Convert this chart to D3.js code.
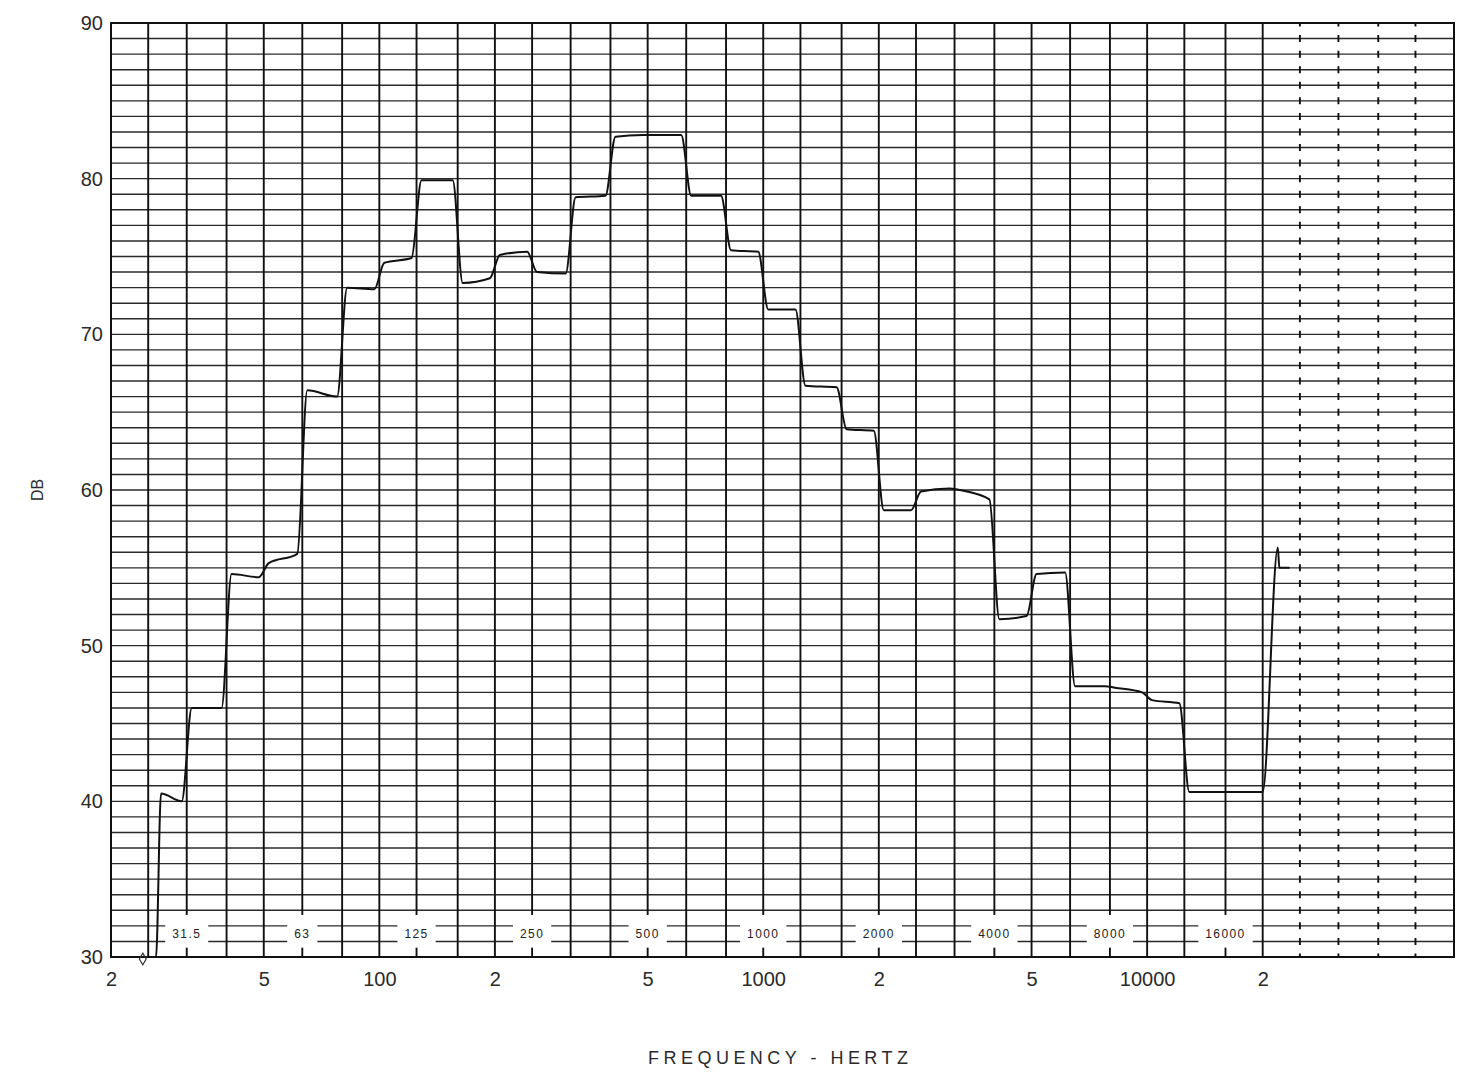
<!DOCTYPE html>
<html>
<head>
<meta charset="utf-8">
<script src="https://cdn.jsdelivr.net/npm/d3@7"></script>
<style>
  html, body { margin: 0; padding: 0; background: #fff; }
  svg { display: block; font-family: "Liberation Sans", Arial, sans-serif; }
</style>
</head>
<body>
<svg id="chart" width="1458" height="1078"></svg>
<script>
// 1/3 octave band centres and the level the pen held in each band (start -> end of band)
const bandHz = [25, 31.5, 40, 50, 63, 80, 100, 125, 160, 200, 250, 315, 400, 500, 630,
  800, 1000, 1250, 1600, 2000, 2500, 3150, 4000, 5000, 6300, 8000, 10000, 12500, 16000];
const levelStart = [40.5, 46.0, 54.6, 55.3, 66.4, 73.0, 74.6, 79.9, 73.3, 75.1, 74.0, 78.8, 82.7, 82.8, 78.9,
  75.4, 71.6, 66.7, 63.9, 58.7, 59.9, 60.0, 51.7, 54.6, 47.4, 47.3, 46.5, 40.6, 40.6];
const levelEnd = [40.0, 46.0, 54.4, 55.9, 66.0, 72.9, 74.9, 79.9, 73.6, 75.3, 73.9, 78.9, 82.8, 82.8, 78.9,
  75.3, 71.6, 66.6, 63.8, 58.7, 60.1, 59.4, 51.9, 54.7, 47.4, 47.0, 46.3, 40.6, 40.6];

// start of the run: pen sits on the floor, then lifts off part way into the 25 Hz band
const traceStartHz = 24.2;
const liftOffHz = 26.2;
const floorDb = 30;
// end of the run in the 20 kHz band: overshoot, settle, pen lifted
const tailHz = [20000, 21900, 22100, 23500];
const tailDb = [40.6, 56.3, 55.0, 55.0];

// paper grid: one line per 1/10 decade, dashed past 20 kHz
const gridHz = [20, 25, 31.5, 40, 50, 63, 80, 100, 125, 160, 200, 250, 315, 400, 500, 630,
  800, 1000, 1250, 1600, 2000, 2500, 3150, 4000, 5000, 6300, 8000, 10000, 12500, 16000, 20000];
const dashedHz = [25000, 31500, 40000, 50000];

const octaveHz = [31.5, 63, 125, 250, 500, 1000, 2000, 4000, 8000, 16000];
const octaveLabels = ["31.5", "63", "125", "250", "500", "1000", "2000", "4000", "8000", "16000"];

const xTickHz = [20, 50, 100, 200, 500, 1000, 2000, 5000, 10000, 20000];
const xTickLabels = ["2", "5", "100", "2", "5", "1000", "2", "5", "10000", "2"];
const yTicks = [30, 40, 50, 60, 70, 80, 90];

const plotLeft = 111, plotRight = 1454, plotTop = 23, plotBottom = 957;

const svg = d3.select("#chart");

const x = d3.scaleLog().domain([20, 63000]).range([plotLeft, plotRight]);
const y = d3.scaleLinear().domain([30, 90]).range([plotBottom, plotTop]);

// horizontal grid, every dB
svg.append("g").attr("class", "hgrid")
  .selectAll("line")
  .data(d3.range(31, 90))
  .enter().append("line")
  .attr("x1", plotLeft).attr("x2", plotRight)
  .attr("y1", d => y(d)).attr("y2", d => y(d))
  .attr("stroke", "#2a2a2a")
  .attr("stroke-width", 1.4);

// vertical grid
svg.append("g").attr("class", "vgrid")
  .selectAll("line")
  .data(gridHz.slice(1))
  .enter().append("line")
  .attr("x1", d => x(d)).attr("x2", d => x(d))
  .attr("y1", plotTop).attr("y2", plotBottom)
  .attr("stroke", "#111")
  .attr("stroke-width", 1.9);

const dbStep = y(30) - y(31);
svg.append("g").attr("class", "vgrid-dashed")
  .selectAll("line")
  .data(dashedHz)
  .enter().append("line")
  .attr("x1", d => x(d)).attr("x2", d => x(d))
  .attr("y1", plotTop).attr("y2", plotBottom)
  .attr("stroke", "#111")
  .attr("stroke-width", 1.9)
  .attr("stroke-dasharray", `7 ${dbStep - 7}`)
  .attr("stroke-dashoffset", 3.5);

// frame
svg.append("rect")
  .attr("x", plotLeft).attr("y", plotTop)
  .attr("width", plotRight - plotLeft).attr("height", plotBottom - plotTop)
  .attr("fill", "none")
  .attr("stroke", "#111")
  .attr("stroke-width", 2);

// octave band labels sitting in white boxes near the bottom
const bandLab = svg.append("g").attr("class", "band-labels");
octaveHz.forEach((f, i) => {
  const g = bandLab.append("g");
  const rect = g.append("rect").attr("fill", "#fff");
  const t = g.append("text")
    .attr("x", x(f))
    .attr("y", (y(31) + y(32)) / 2)
    .attr("dy", "0.35em")
    .attr("text-anchor", "middle")
    .attr("font-size", 12)
    .attr("letter-spacing", 1.4)
    .attr("fill", "#222")
    .text(octaveLabels[i]);
  const w = t.node().getComputedTextLength() + 14;
  rect.attr("x", x(f) - w / 2).attr("width", w)
    .attr("y", y(32.7)).attr("height", y(30.6) - y(32.7));
});

// the recorder trace
const r = Math.pow(10, 5 / 384);
const pts = [[traceStartHz, floorDb], [liftOffHz, floorDb]];
bandHz.forEach((f, i) => {
  const next = i < bandHz.length - 1 ? bandHz[i + 1] : tailHz[0];
  pts.push([(i === 0 ? liftOffHz : f) * r, levelStart[i]]);
  pts.push([next / r, levelEnd[i]]);
});
tailHz.forEach((f, i) => pts.push([f, tailDb[i]]));

const line = d3.line()
  .x(d => x(d[0]))
  .y(d => y(d[1]))
  .curve(d3.curveMonotoneX);

svg.append("path")
  .datum(pts)
  .attr("d", line)
  .attr("fill", "none")
  .attr("stroke", "#111")
  .attr("stroke-width", 2)
  .attr("stroke-linejoin", "round");

// pen start mark
svg.append("path")
  .attr("d", d3.symbol().type(d3.symbolDiamond).size(40))
  .attr("transform", `translate(${x(traceStartHz)},${y(floorDb) + 2})`)
  .attr("fill", "none")
  .attr("stroke", "#333")
  .attr("stroke-width", 1.2);

// axes (labels only)
const xAxis = d3.axisBottom(x)
  .tickValues(xTickHz)
  .tickFormat((d, i) => xTickLabels[i])
  .tickSize(0)
  .tickPadding(15);

svg.append("g")
  .attr("transform", `translate(0,${plotBottom})`)
  .call(xAxis)
  .call(g => g.select(".domain").remove())
  .selectAll("text")
  .attr("font-size", 20)
  .attr("font-family", "Liberation Sans, Arial, sans-serif")
  .attr("fill", "#2a2a2a");

const yAxis = d3.axisLeft(y)
  .tickValues(yTicks)
  .tickSize(0)
  .tickPadding(plotLeft - 103);

svg.append("g")
  .attr("transform", `translate(${plotLeft},0)`)
  .call(yAxis)
  .call(g => g.select(".domain").remove())
  .selectAll("text")
  .attr("font-size", 20)
  .attr("font-family", "Liberation Sans, Arial, sans-serif")
  .attr("fill", "#2a2a2a");

// titles
svg.append("text")
  .attr("transform", "translate(43,490) rotate(-90)")
  .attr("text-anchor", "middle")
  .attr("font-size", 16)
  .attr("fill", "#2a2a2a")
  .text("DB");

svg.append("text")
  .attr("x", 648)
  .attr("y", 1064)
  .attr("font-size", 18)
  .attr("textLength", 260)
  .attr("lengthAdjust", "spacing")
  .attr("fill", "#2a2a2a")
  .text("FREQUENCY - HERTZ");
</script>
</body>
</html>
